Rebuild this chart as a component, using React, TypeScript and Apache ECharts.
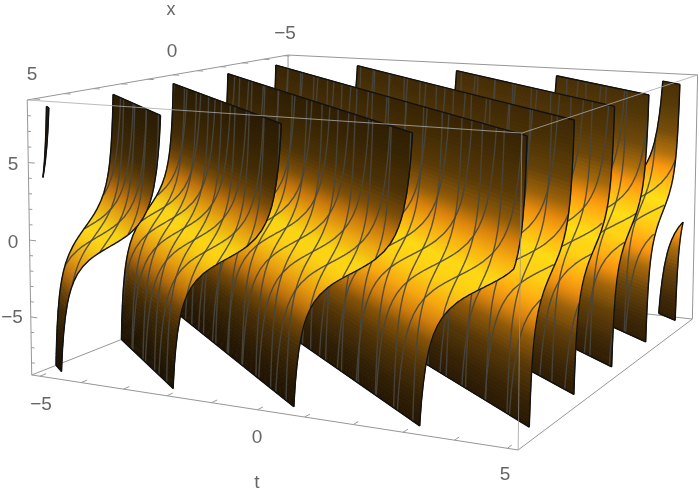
import React, { useEffect, useRef } from "react";
import * as echarts from "echarts";

const tTicks = [-5, 0, 5];
const xTicks = [5, 0, -5];
const zTicks = [-5, 0, 5];
// centre of each sheet in w = t - slope * x
const sheetCentres = [-11.78, -9.17, -6.54, -3.89, -1.32, 1.39, 4.01, 6.51, 9.02, 11.43];
// how light the dark parts of each sheet look in the picture
const sheetShade = [0.7, 0.7, 0.72, 0.8, 0.95, 1.05, 1.15, 1.2, 1.25, 1.25];
const slope = 1.15;
// sheet profile: height z against offset in w from the sheet's centre
const profileZ = [-8.5,-8,-7,-6,-5,-4,-3.5,-3,-2.5,-2,-1.5,-1,-0.75,-0.5,-0.25,0,0.25,0.5,0.75,1,1.5,2,2.5,3,3.5,4,5,6,7,8,8.5];
const profileW = [-1.198,-1.189,-1.166,-1.134,-1.092,-1.031,-0.989,-0.936,-0.867,-0.776,-0.652,-0.484,-0.38,-0.262,-0.134,0,0.134,0.262,0.38,0.484,0.652,0.776,0.867,0.936,0.989,1.031,1.092,1.134,1.166,1.189,1.198];
const colourZ = [-8.9,-7,-5,-3.5,-2.5,-1.5,-0.5,0.5,1.5,2.5,3.5,5,7,8.9];
const colourRGB = [[34,20,3],[52,33,6],[85,55,8],[140,88,10],[215,130,15],[250,170,18],[255,208,22],[255,218,22],[252,178,18],[225,135,14],[150,95,10],[95,62,8],[70,46,6],[55,36,5]];

const BOX_T = 5.2, BOX_X = 5.2, BOX_TOP = 9.0, BOX_BOTTOM = -8.8;
// [t, x, z, screen u, screen v]
const corners = [
  [-BOX_T, BOX_X, BOX_TOP, 27, 100],
  [-BOX_T, BOX_X, BOX_BOTTOM, 32, 375],
  [BOX_T, BOX_X, BOX_BOTTOM, 517, 450],
  [BOX_T, BOX_X, BOX_TOP, 523, 133],
  [-BOX_T, -BOX_X, BOX_TOP, 288, 55],
  [BOX_T, -BOX_X, BOX_TOP, 697, 75],
  [BOX_T, -BOX_X, BOX_BOTTOM, 693, 319],
];

function solve(A: number[][], b: number[]) {
  const n = b.length;
  const M = A.map((r, i) => [...r, b[i]]);
  for (let c = 0; c < n; c++) {
    let p = c;
    for (let r = c + 1; r < n; r++) if (Math.abs(M[r][c]) > Math.abs(M[p][c])) p = r;
    [M[c], M[p]] = [M[p], M[c]];
    for (let r = 0; r < n; r++) {
      if (r === c) continue;
      const f = M[r][c] / M[c][c];
      for (let k = c; k <= n; k++) M[r][k] -= f * M[c][k];
    }
  }
  return M.map((r, i) => r[n] / r[i]);
}
function fitCamera() {
  const rows: number[][] = [], rhs: number[] = [];
  corners.forEach(([X, Y, Z, u, v]) => {
    rows.push([X, Y, Z, 1, 0, 0, 0, 0, -u * X, -u * Y, -u * Z]); rhs.push(u);
    rows.push([0, 0, 0, 0, X, Y, Z, 1, -v * X, -v * Y, -v * Z]); rhs.push(v);
  });
  const AtA = Array.from({ length: 11 }, (_, i) => Array.from({ length: 11 }, (_, j) => rows.reduce((s, r) => s + r[i] * r[j], 0)));
  const Atb = Array.from({ length: 11 }, (_, i) => rows.reduce((s, r, k) => s + r[i] * rhs[k], 0));
  return solve(AtA, Atb);
}
const P = fitCamera();
const proj = (t: number, x: number, z: number) => {
  const d = P[8] * t + P[9] * x + P[10] * z + 1;
  return [(P[0] * t + P[1] * x + P[2] * z + P[3]) / d, (P[4] * t + P[5] * x + P[6] * z + P[7]) / d];
};
const colourAt = (z: number, shade: number) => {
  let i = 0;
  while (i < colourZ.length - 2 && z > colourZ[i + 1]) i++;
  const f = Math.max(0, Math.min(1, (z - colourZ[i]) / (colourZ[i + 1] - colourZ[i])));
  const k = 1 + (shade - 1) * Math.min(1, Math.abs(z) / 4.5);
  const c = colourRGB[i].map((a, j) => Math.min(255, Math.round((a + (colourRGB[i + 1][j] - a) * f) * k)));
  return `rgb(${c[0]},${c[1]},${c[2]})`;
};
const seg = (w: number) => {
  const a = Math.max(-5, (-5 - w) / slope), b = Math.min(5, (5 - w) / slope);
  return a <= b ? [a, b] : null;
};

function App() {
  const ref = useRef<HTMLDivElement>(null);
  useEffect(() => {
    document.body.style.margin = "0";
    const chart = echarts.init(ref.current!, undefined, { renderer: "svg" });
    const frameStyle = { stroke: "#969696", lineWidth: 1, fill: "none" };
    const line = (api: any, a: number[], b: number[], style: any = frameStyle) => {
      const p = api.coord(proj(a[0], a[1], a[2])), q = api.coord(proj(b[0], b[1], b[2]));
      return { type: "line", shape: { x1: p[0], y1: p[1], x2: q[0], y2: q[1] }, style };
    };
    const T = BOX_T, X = BOX_X, Zt = BOX_TOP, Zb = BOX_BOTTOM;
    const sheetItem = (api: any, c: number, shade: number) => {
      const children: any[] = [];
      const toPx = (t: number, x: number, z: number) => api.coord(proj(t, x, z));
      const fine: { z: number; w: number }[] = [];
      for (let i = 0; i < profileZ.length - 1; i++) {
        for (let j = 0; j < 4; j++) {
          const f = j / 4;
          fine.push({ z: profileZ[i] + (profileZ[i + 1] - profileZ[i]) * f, w: c + profileW[i] + (profileW[i + 1] - profileW[i]) * f });
        }
      }
      fine.push({ z: profileZ[profileZ.length - 1], w: c + profileW[profileW.length - 1] });
      const left: number[][] = [], right: number[][] = [];
      let first: any = null, last: any = null;
      for (let i = 0; i < fine.length; i++) {
        const s = seg(fine[i].w);
        if (s) {
          left.push(toPx(fine[i].w + slope * s[0], s[0], fine[i].z));
          right.push(toPx(fine[i].w + slope * s[1], s[1], fine[i].z));
          if (!first) first = [left[left.length - 1], right[right.length - 1]];
          last = [left[left.length - 1], right[right.length - 1]];
        }
        if (i + 1 < fine.length) {
          const s2 = seg(fine[i + 1].w);
          if (s && s2) {
            const a = toPx(fine[i].w + slope * s[0], s[0], fine[i].z);
            const b = toPx(fine[i].w + slope * s[1], s[1], fine[i].z);
            const d = toPx(fine[i + 1].w + slope * s2[0], s2[0], fine[i + 1].z);
            const e = toPx(fine[i + 1].w + slope * s2[1], s2[1], fine[i + 1].z);
            const col = colourAt((fine[i].z + fine[i + 1].z) / 2, shade);
            children.push({ type: "polygon", shape: { points: [a, b, e, d] }, style: { fill: col, stroke: col, lineWidth: 1 } });
          }
        }
      }
      const mesh = { stroke: "rgba(72,70,62,0.9)", lineWidth: 1.4, fill: "none" };
      const meshCount = 15;
      const step = 10 / meshCount;
      for (let m = 1; m < meshCount; m++) {
        const v = -5 + m * step;
        const ptsX: number[][] = [], ptsT: number[][] = [];
        fine.forEach(({ z, w }) => {
          const t = w + slope * v;
          if (t >= -5 && t <= 5) ptsX.push(toPx(t, v, z));
          const x = (v - w) / slope;
          if (x >= -5 && x <= 5) ptsT.push(toPx(v, x, z));
        });
        if (ptsX.length > 1) children.push({ type: "polyline", shape: { points: ptsX }, style: mesh });
        if (ptsT.length > 1) children.push({ type: "polyline", shape: { points: ptsT }, style: mesh });
      }
      const edge = { stroke: "#111", lineWidth: 1.4, fill: "none" };
      if (left.length > 1) {
        children.push({ type: "polyline", shape: { points: left }, style: edge });
        children.push({ type: "polyline", shape: { points: right }, style: edge });
        children.push({ type: "polyline", shape: { points: first }, style: edge });
        children.push({ type: "polyline", shape: { points: last }, style: edge });
      }
      return { type: "group", children };
    };
    const tickItems = (api: any) => {
      const out: any[] = [];
      const tick = { stroke: "#999", lineWidth: 1, fill: "none" };
      for (let t = -5; t <= 5; t++) out.push(line(api, [t, X, Zb], [t, X - 0.2, Zb], tick));
      for (let x = -5; x <= 5; x++) out.push(line(api, [-T, x, Zt], [-T + 0.16, x, Zt], tick));
      for (let z = -8; z <= 8; z++) out.push(line(api, [-T, X, z], [-T + (z % 5 === 0 ? 0.16 : 0.08), X, z], tick));
      return out;
    };
    const label = (api: any, text: string, u: number, v: number, size = 19) => {
      const p = api.coord([u, v]);
      return { type: "text", x: p[0], y: p[1], style: { text, fill: "#666", fontSize: size, fontFamily: "Liberation Sans", align: "center", verticalAlign: "middle" } };
    };
    const base = {
      type: "custom", coordinateSystem: "cartesian2d", clip: false, silent: true,
    };
    chart.setOption({
      animation: false,
      grid: { left: 0, right: 0, top: 0, bottom: 0 },
      xAxis: { type: "value", min: 0, max: 699, show: false },
      yAxis: { type: "value", min: 0, max: 491, inverse: true, show: false },
      series: [
        {
          ...base, data: [0], z: 1,
          renderItem: (_: any, api: any) => ({ type: "group", children: [
            line(api, [-T, -X, Zt], [T, -X, Zt]), line(api, [T, -X, Zt], [T, -X, Zb]),
            line(api, [-T, X, Zb], [-T, -X, Zb]), line(api, [-T, -X, Zb], [T, -X, Zb]),
            line(api, [-T, -X, Zt], [-T, -X, Zb]),
            line(api, [-T, X, Zt], [-T, -X, Zt]),
            line(api, [-T, X, Zt], [-T, X, Zb]),
            line(api, [-T, X, Zb], [T, X, Zb]),
            line(api, [T, X, Zb], [T, -X, Zb]),
            ...tickItems(api),
          ] }),
        },
        {
          ...base, z: 2,
          data: sheetCentres.map((c, i) => [c, sheetShade[i]]).reverse(),
          renderItem: (_: any, api: any) => sheetItem(api, api.value(0), api.value(1)),
        },
        {
          ...base, data: [0], z: 3,
          renderItem: (_: any, api: any) => ({ type: "group", children: [
            line(api, [-T, X, Zt], [T, X, Zt], { ...frameStyle, stroke: "rgba(170,170,170,0.8)" }),
            line(api, [T, X, Zt], [T, -X, Zt], { ...frameStyle, stroke: "rgba(170,170,170,0.8)" }),
            line(api, [T, X, Zt], [T, X, Zb], { ...frameStyle, stroke: "rgba(150,150,150,0.7)" }),
            label(api, "x", 171, 9, 18),
            label(api, String(xTicks[0]), 32, 73), label(api, String(xTicks[1]), 172, 50), label(api, "−5", 285, 32),
            label(api, "5", 13, 163), label(api, String(zTicks[1]), 13, 241), label(api, "−5", 12, 316),
            label(api, "−5", 41, 403), label(api, String(tTicks[1]), 257, 436), label(api, "5", 505, 473),
            label(api, "t", 257, 481),
          ] }),
        },
      ],
    });
    return () => chart.dispose();
  }, []);
  return <div ref={ref} style={{ width: 699, height: 491, filter: "blur(0.4px)" }} />;
}
export default App;
